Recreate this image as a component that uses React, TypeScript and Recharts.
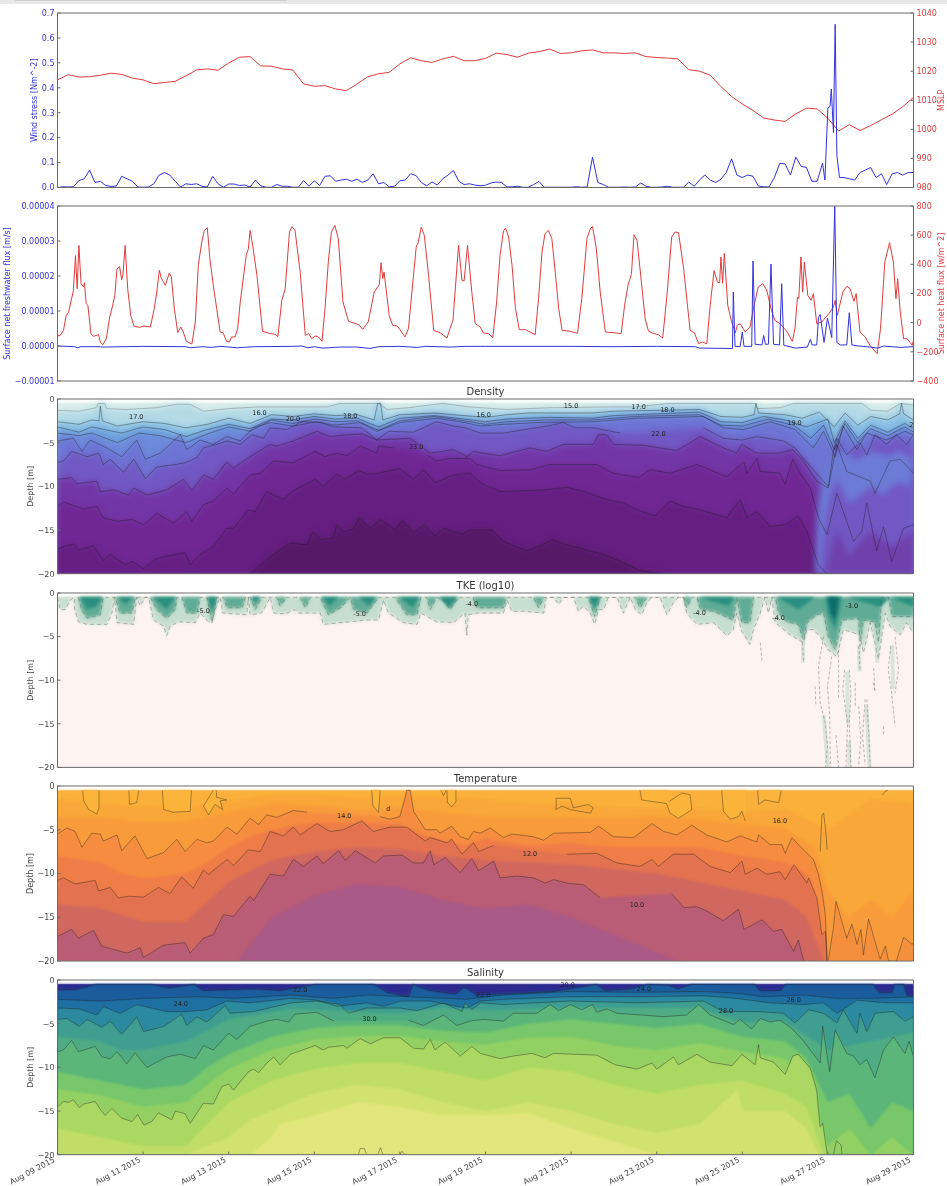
import {
  Area,
  ComposedChart,
  Line,
  ReferenceDot,
  XAxis,
  YAxis,
} from "recharts";

type Pt = [number, number | null];
type Tag = [number, number, string];
type Layer = [string, Pt[], string, number?];

const xTicks = [0, 2, 4, 6, 8, 10, 12, 14, 16, 18, 20];
const dateLabels = ["Aug 09 2015", "Aug 11 2015", "Aug 13 2015", "Aug 15 2015", "Aug 17 2015", "Aug 19 2015", "Aug 21 2015", "Aug 23 2015", "Aug 25 2015", "Aug 27 2015", "Aug 29 2015"];
const depthTicks = [0, -5, -10, -15, -20];

// wind stress, one value per 3 hours up to the storm, then a hand read peak
const windEarly = [
  0, 0.003, 0.002, 0.003, 0.028, 0.035, 0.07, 0.02, 0.025, 0.008,
  0.004, 0.006, 0.045, 0.035, 0.025, 0.002, 0.001, 0.002, 0.015, 0.05,
  0.06, 0.05, 0.025, 0.002, 0.015, 0.012, 0.015, 0.005, 0.002, 0.045,
  0.015, 0.001, 0.014, 0.014, 0.008, 0.01, 0.002, 0.03, 0.007, 0.001,
  0.001, 0.012, 0.005, 0.005, 0.001, 0.001, 0.028, 0.005, 0.027, 0.008,
  0.045, 0.047, 0.025, 0.03, 0.033, 0.025, 0.033, 0.02, 0.03, 0.055,
  0.015, 0.02, 0.003, 0.005, 0.027, 0.03, 0.055, 0.048, 0.02, 0.007,
  0.022, 0.01, 0.035, 0.05, 0.068, 0.025, 0.012, 0.015, 0.01, 0.007,
  0.009, 0.018, 0.022, 0.02, 0.002, 0.003, 0.005, 0.001, 0.001, 0.012,
  0.024, 0.001, 0.001, 0.001, 0.001, 0.001, 0.001, 0.003, 0.001, 0.002,
  0.122, 0.02, 0.012, 0.001, 0.001, 0.001, 0.002, 0.001, 0.002, 0.018,
  0.005, 0.001, 0.001, 0.002, 0.005, 0.001, 0.001, 0.001, 0.022, 0.005,
  0.03, 0.05, 0.03, 0.02, 0.033, 0.06, 0.115, 0.05, 0.04, 0.05,
  0.045, 0.006, 0.003, 0.002, 0.04, 0.097, 0.095, 0.05, 0.122, 0.085,
  0.08, 0.025, 0.025, 0.098,
];
const windPeak: Pt[] = [[17.93, 0.03], [18, 0.32], [18.05, 0.325], [18.08, 0.395], [18.13, 0.22], [18.17, 0.655], [18.21, 0.13], [18.27, 0.04]];
const windLate = [0.04, 0.035, 0.03, 0.06, 0.07, 0.08, 0.04, 0.055, 0.012, 0.055, 0.06, 0.05, 0.06, 0.06];

const mslp = [
  1017, 1018.8, 1018, 1018.1, 1018.6, 1019.3, 1018.9, 1017.6, 1017, 1015.7,
  1016.1, 1016.5, 1018.4, 1020.4, 1020.8, 1020.3, 1022.8, 1024.8, 1025, 1021.8,
  1021.7, 1020.8, 1020.4, 1015.6, 1014.8, 1015, 1013.9, 1013.3, 1015.6, 1018.1,
  1019.1, 1019.6, 1022.5, 1024.6, 1023.6, 1023, 1024.2, 1025.1, 1023.6, 1023.6,
  1024.4, 1026.2, 1025.7, 1024.8, 1026.2, 1026.7, 1027.6, 1026.1, 1026.3, 1027,
  1027.3, 1026.3, 1026.3, 1026.1, 1026.3, 1025, 1024.7, 1024.5, 1024.2, 1020.5,
  1020, 1018.6, 1014.7, 1011.3, 1008.7, 1006.5, 1003.9, 1003.2, 1002.7, 1005.3,
  1007.3, 1007, 1003.8, 999.4, 1001.6, 999.6, 1001.3, 1003.3, 1005.2, 1007.8, 1011,
];

const heatFlux: Pt[] = [
  [0, -89], [0.06, -89], [0.14, -53], [0.2, 46], [0.26, 73], [0.37, 219], [0.42, 459], [0.46, 233], [0.5, 530], [0.55, 267], [0.61, 245], [0.63, 274], [0.67, 130], [0.71, 119], [0.78, -75], [0.84, -94], [0.96, -82], [1, -133], [1.06, -151], [1.14, -110], [1.22, 39], [1.28, 107], [1.34, 187], [1.39, 370], [1.45, 386], [1.5, 295], [1.53, 329], [1.58, 530], [1.64, 233], [1.71, 50], [1.79, -25], [1.93, -32], [2.02, -23], [2.17, -30], [2.26, 96], [2.32, 210], [2.38, 359], [2.42, 309], [2.52, 256], [2.61, 340], [2.66, 313], [2.73, 96], [2.81, -69], [2.88, -30], [2.94, -64], [3.01, -128], [3.14, -146], [3.22, 5], [3.29, 393], [3.37, 553], [3.43, 633], [3.5, 651], [3.56, 439], [3.64, 256], [3.72, 96], [3.8, -64], [3.87, -69], [3.95, -128], [4.02, -133], [4.06, -98], [4.15, -98], [4.21, -41], [4.27, 142], [4.41, 462], [4.46, 507], [4.5, 633], [4.56, 530], [4.66, 325], [4.79, -59], [4.97, -75], [5.09, -80], [5.15, -96], [5.24, 153], [5.32, 233], [5.42, 622], [5.48, 658], [5.55, 633], [5.67, 347], [5.79, -87], [5.87, -75], [5.94, -110], [6.02, -91], [6.1, -98], [6.18, -128], [6.25, 96], [6.33, 427], [6.4, 621], [6.48, 667], [6.56, 576], [6.67, 142], [6.8, 9], [6.92, -2], [7.04, -14], [7.13, -46], [7.26, 5], [7.4, 210], [7.52, 261], [7.56, 411], [7.6, 302], [7.63, 347], [7.75, 50], [7.83, -18], [7.94, -23], [8.12, -98], [8.2, -41], [8.38, 517], [8.43, 553], [8.5, 655], [8.57, 599], [8.67, 325], [8.79, -53], [8.94, -69], [9.1, -105], [9.17, -41], [9.24, 16], [9.37, 530], [9.45, 290], [9.5, 286], [9.58, 530], [9.68, 210], [9.76, -7], [9.88, -30],
  [9.95, -71], [10.07, -75], [10.17, -103], [10.26, 142], [10.34, 462], [10.42, 629], [10.47, 649], [10.54, 587], [10.62, 393], [10.7, 96], [10.79, -48], [10.93, -48], [11.04, -64], [11.16, -82], [11.24, 165], [11.32, 485], [11.39, 610], [11.47, 633], [11.55, 576], [11.63, 347], [11.71, 96], [11.79, -53], [11.98, -59], [12.15, -73], [12.25, 165], [12.37, 576], [12.45, 644], [12.5, 660], [12.59, 507], [12.68, 210], [12.8, -64], [13, -69], [13.17, -75], [13.25, 119], [13.33, 256], [13.41, 336], [13.47, 603], [13.54, 565], [13.61, 370], [13.73, 27], [13.81, -59], [13.93, -75], [14.04, -82], [14.14, -105], [14.24, 187], [14.35, 587], [14.43, 622], [14.51, 617], [14.63, 370], [14.78, -53], [14.88, -69], [14.98, -144], [15.06, -133], [15.17, -144], [15.25, 119], [15.34, 357], [15.42, 277], [15.47, 274], [15.5, 450], [15.54, 270], [15.58, 475], [15.66, 119], [15.75, 5], [15.84, -69], [15.88, -18], [15.95, -7], [16.07, -64], [16.18, -30], [16.26, 96], [16.37, 245], [16.48, 267], [16.57, 224], [16.68, 85], [16.76, 16], [16.88, -7], [16.99, -41], [17.07, -75], [17.17, -128], [17.23, -41], [17.29, 176], [17.32, 165], [17.37, 450], [17.41, 210], [17.45, 416], [17.53, 187], [17.61, 153], [17.66, 199], [17.74, -7], [17.86, 5], [18.02, 62], [18.13, 107], [18.17, 153], [18.22, 50], [18.35, 210], [18.44, 249], [18.52, 233], [18.61, 146], [18.66, 199], [18.75, -64], [18.87, -98], [18.98, -155], [19.15, -213], [19.23, -41], [19.33, 416], [19.44, 549], [19.53, 416], [19.59, 165], [19.63, 302], [19.69, 73], [19.77, -110], [19.85, -110], [19.97, -155], [20, -121],
];

// freshwater flux in units of 1e-5 m/s
const freshFlux: Pt[] = [
  [0, 0], [0.4, -0.02], [0.46, -0.05], [0.55, -0.02], [1, -0.02], [1.05, -0.03], [2, -0.01], [3, -0.02], [3.1, -0.05], [3.4, -0.02], [3.6, -0.04], [3.8, -0.01], [4, -0.03], [4.2, -0.05], [4.6, -0.02], [5.5, -0.01], [5.7, 0], [5.85, -0.05], [6, -0.02], [6.2, -0.06], [6.6, -0.03], [7, -0.03], [7.3, -0.07], [7.5, -0.02], [8, -0.01], [8.4, -0.04], [8.6, -0.01], [9.2, -0.03], [9.5, -0.01], [10, -0.01], [12, -0.01], [13, -0.02], [14, -0.01], [14.9, -0.02], [15, -0.06], [15.74, -0.07], [15.77, -0.07], [15.79, 1.54], [15.83, -0.01], [15.95, -0.02], [16, 0.4], [16.04, -0.01], [16.22, -0.01], [16.25, 2.43], [16.3, 0.05], [16.46, 0.03], [16.5, 0.3], [16.54, 0.05], [16.61, 0.05], [16.67, 2.34], [16.73, 0.05], [16.87, 0.03], [16.92, 1.78], [16.97, 0.02], [17.24, -0.06], [17.52, -0.03], [17.59, 0.19], [17.63, 0.03], [17.74, 0.03], [17.78, 0.82], [17.82, 0.9], [17.91, 0.1], [17.99, 0.8], [18.09, 0.24], [18.16, 4], [18.21, 0.1], [18.29, 0.03], [18.44, 0.03], [18.5, 0.95], [18.56, 0.03], [18.72, 0], [18.99, -0.03], [19.16, -0.06], [19.3, 0], [19.69, -0.04], [20, -0.02],
];

const surface: Pt[] = [[0, -0.5], [20, -0.5]];

// density contours, [day, depth]
const densU0: Pt[] = [[0, -1.3], [0.5, -1.4], [0.9, -1], [0.95, -0.5], [1.1, -0.5], [1.15, -1.1], [1.6, -1.2], [2.3, -1], [2.8, -0.6], [3.1, -0.6], [3.4, -1.4], [4, -1.1], [4.7, -0.9], [5.5, -0.9], [6.3, -0.9], [6.6, -0.5], [7.3, -0.5], [7.5, -0.5], [7.7, -1.2], [8.2, -1], [9, -0.5], [9.6, -0.9], [10.5, -1.2], [11.5, -1], [13, -0.9], [13.5, -0.9], [14.3, -0.5], [15.5, -0.5], [16.3, -0.5], [16.35, -1.1], [16.9, -1], [17.2, -0.5], [18.8, -0.5], [19, -1.3], [19.4, -1.4], [19.7, -0.5], [20, -0.7]];
const densU1: Pt[] = [[0, -2.6], [0.5, -2.9], [0.8, -2.4], [0.97, -2.5], [1, -0.8], [1.05, -2.5], [1.4, -3.1], [2, -2.6], [2.5, -2.8], [3, -3.3], [3.5, -2.9], [4, -2.2], [4.5, -2.8], [5, -1.8], [5.5, -2], [6, -1.7], [6.5, -1.9], [7, -1.8], [7.4, -2.4], [7.48, -0.5], [7.55, -0.5], [7.6, -2.4], [8, -1.8], [8.8, -1.6], [9.5, -1.9], [10, -2.1], [10.5, -1.8], [11, -1.6], [11.5, -1.6], [12.5, -1.6], [13, -1.4], [14, -1.3], [15, -1.2], [15.5, -2], [16, -2.1], [16.28, -1.8], [16.32, -0.5], [16.38, -1.6], [17, -1.8], [17.4, -2.2], [17.8, -1.5], [18.15, -3.2], [18.4, -1.6], [18.7, -3], [19, -2], [19.4, -2.4], [19.68, -1.7], [19.72, -0.5], [19.77, -1.7], [20, -2.4]];
const densU2: Pt[] = [[0, -3.2], [0.5, -3.8], [0.8, -3.2], [1.5, -3.9], [2, -3.2], [2.5, -3.5], [3, -4.3], [3.5, -3.5], [4, -2.9], [4.5, -3.4], [5, -2.3], [5.5, -2.4], [6, -2], [6.5, -2.3], [7, -2.2], [7.5, -3.2], [8, -2.2], [8.8, -1.9], [9.5, -2.3], [10, -2.6], [10.5, -2.3], [11, -2.2], [11.5, -2.1], [12.5, -2.2], [13, -1.9], [14, -1.7], [15, -1.5], [15.5, -2.6], [16, -2.7], [16.5, -2], [17, -2.4], [17.5, -3.2], [18, -2.3], [18.15, -5], [18.4, -2.5], [18.7, -4.5], [19, -3], [19.4, -3.8], [19.8, -2.8], [20, -3.4]];
const densU3: Pt[] = [[0, -3.9], [0.5, -4.2], [0.8, -3.9], [1.4, -5], [1.9, -3.9], [2.4, -4.2], [3, -5], [3.5, -4], [4, -3.2], [4.5, -3.7], [5, -2.4], [5.5, -2.8], [6, -2.3], [6.5, -2.6], [7, -2.5], [7.5, -3.6], [8, -2.5], [8.8, -2], [9.5, -2.5], [10, -2.9], [10.5, -2.6], [11.4, -2.4], [12.5, -2.4], [13.5, -2], [15, -1.8], [15.5, -3], [16, -3.1], [16.6, -2.3], [17.2, -3], [17.6, -4.5], [17.9, -3], [18.15, -5.8], [18.4, -2.8], [18.7, -5], [19, -3.4], [19.4, -4.2], [19.8, -3.2], [20, -3.8]];
const densU4: Pt[] = [[0, -4.8], [0.37, -4.5], [0.57, -6], [0.76, -4.7], [1.15, -5.6], [1.5, -6.6], [1.85, -4.7], [2.05, -6.9], [2.4, -6.2], [2.87, -4.1], [3.02, -5.8], [3.33, -4.7], [3.64, -5.2], [3.96, -4.3], [4.27, -4.8], [4.58, -3.3], [4.97, -2.7], [5.51, -3.1], [6.06, -2.6], [6.45, -3], [7.07, -2.7], [7.46, -3.7], [8, -2.7], [8.86, -2.2], [9.52, -2.7], [9.88, -3.1], [10.42, -2.9], [11.2, -2.7], [12.52, -2.6], [13.54, -2.2], [15.09, -2], [15.56, -3.3], [16.03, -3.5], [16.65, -2.6], [17.23, -3.5], [17.66, -5.6], [17.9, -3.7], [18.17, -6.6], [18.36, -3.1], [18.68, -5.8], [18.91, -3.9], [19.37, -4.7], [19.8, -3.7], [20, -4.1]];
const densA: Pt[] = [[0, -7.3], [0.14, -7.1], [0.33, -6], [0.69, -6.6], [0.96, -6.2], [1.07, -7.5], [1.23, -6.9], [1.54, -8.4], [1.78, -6.9], [2.05, -9.1], [2.32, -7.8], [2.75, -7.5], [2.98, -7.3], [3.26, -6.7], [3.41, -5.6], [3.72, -5.2], [3.96, -4.8], [4.27, -5.2], [4.54, -4.1], [4.81, -4.5], [4.97, -3.3], [5.36, -3.5], [5.71, -2.6], [6.14, -2.7], [6.45, -3.2], [7.11, -3.3], [7.46, -4.7], [7.73, -3.7], [8.32, -3.8], [8.86, -2.6], [9.25, -3.1], [9.52, -3.3], [9.88, -3.9], [10.42, -3.9], [11.43, -3.1], [11.82, -2.7], [12.09, -3.3], [12.52, -3.3], [13.15, -3.9], [14, null], [15.09, -3.3], [15.56, -4.5], [15.99, -4.7], [16.34, -4.3], [16.96, -4.8], [17.23, -5.6], [17.43, -6.8], [17.82, -9], [18.01, -10], [18.13, -6], [18.21, -4.5], [18.44, -6.4], [18.75, -5], [18.91, -6.4], [19.1, -4.1], [19.37, -5.2], [19.6, -4.1], [19.84, -5.2], [20, -4.1]];
const densB: Pt[] = [[0, -9.2], [0.33, -9], [0.45, -9.7], [0.92, -9.4], [1, -10.6], [1.31, -10.4], [1.66, -11], [1.78, -10.2], [2.09, -11], [2.55, -10.4], [2.94, -9.2], [3.14, -10.5], [3.41, -8.7], [3.64, -9.2], [3.96, -7.2], [4.11, -7.9], [4.5, -6.6], [4.97, -5.2], [5.12, -5.4], [5.51, -4.8], [6.06, -3.7], [6.37, -4.3], [6.76, -4.1], [7.11, -4], [7.46, -4.7], [8.24, -4.5], [8.71, -6.2], [9.25, -5.8], [9.56, -6.6], [9.72, -6], [9.95, -6.2], [10.34, -6.5], [11.04, -5.6], [11.43, -6], [11.82, -5.2], [12.52, -5.2], [12.64, -4.1], [12.83, -4.1], [12.99, -5.2], [13.69, -5.3], [14.47, -5.9], [15.02, -4.3], [15.56, -5.6], [15.87, -6.2], [15.99, -5.2], [16.34, -6.2], [16.88, -6.2], [17.18, -5.8], [17.43, -7.1], [17.74, -9.4], [18.01, -10.2], [18.21, -5.2], [18.44, -8.3], [18.99, -9.4], [19.1, -10.8], [19.45, -7.1], [19.69, -6.9], [20, -8.5]];
const densC: Pt[] = [[0, -12.3], [0.14, -11.8], [0.61, -12.6], [0.92, -12.3], [1.07, -13.6], [1.39, -14], [1.74, -13.8], [2.01, -14.4], [2.32, -13.1], [2.71, -14.2], [3.02, -12.9], [3.14, -14], [3.41, -12.1], [3.64, -11.7], [3.96, -10.2], [4.11, -10.9], [4.5, -8.7], [4.74, -8.5], [5.05, -7.1], [5.51, -7.3], [6.02, -6], [6.25, -6.6], [6.53, -6.2], [6.76, -6.5], [7.07, -5.4], [7.46, -6.2], [7.5, -5.4], [7.85, -5.6], [8.2, null], [8.63, -6.4], [8.86, -7.1], [9.17, -6.8], [9.64, -6.8], [9.8, -7.5], [10.34, -8.2], [11.04, -8.1], [11.51, -7.5], [12.6, -7.5], [12.99, -8.5], [13.58, -9], [13.85, -8.1], [14.31, -8.5], [14.94, -7.5], [15.64, -8.9], [16.03, -7.2], [16.11, -8.5], [16.34, -6.8], [16.42, -8.3], [16.88, -8.5], [17, -9.8], [17.18, -6.9], [17.35, -8.5], [17.59, -10.2], [17.78, -13.6], [17.98, -15.5], [18.21, -10.8], [18.44, -14], [18.6, -16.3], [18.79, -15.2], [18.91, -11.9], [19.14, -17.4], [19.3, -14.6], [19.49, -18.6], [19.77, -14.8], [20, -14.4]];
const densD: Pt[] = [[0, -17.2], [0.14, -16.9], [0.37, -16.6], [0.49, -17.3], [0.84, -16.8], [1.07, -18.5], [1.23, -17.8], [1.58, -19], [1.74, -18.6], [2.01, -19.4], [2.32, -18.3], [2.55, -18], [2.98, -17.6], [3.1, -19], [3.33, -17.8], [3.64, -16.9], [3.96, -14.8], [4.11, -14.8], [4.46, -12.7], [4.62, -12.9], [4.89, -10.6], [5.05, -11], [5.28, -11.5], [5.51, -10.5], [6.02, -9.2], [6.21, -10], [6.53, -8.6], [6.72, -9.2], [7.03, -8.2], [7.23, -8.6], [7.5, -8.5], [7.77, -8.2], [8, -8], [8.32, -9.2], [8.55, -8.1], [8.82, -9.6], [9.25, -8.7], [9.64, -8.5], [9.88, -9.6], [10.34, -10.6], [11.43, -10.4], [11.9, -10.1], [12.29, -10.6], [12.83, -11.5], [13.22, -11.9], [13.54, -12.7], [13.96, -13.4], [14.31, -11.7], [14.63, -12.3], [15.02, -12.7], [15.64, -13.6], [15.95, -11.5], [16.11, -13.6], [16.34, -12.9], [16.65, -14.6], [17, -14.4], [17.31, -13.4], [17.51, -15.2], [17.78, -19], [17.98, -20]];
const densE: Pt[] = [[4.5, -20], [5.05, -17.8], [5.44, -16.5], [5.83, -16.7], [5.98, -15.2], [6.14, -16.1], [6.45, -15.9], [6.53, -14.4], [6.68, -15.2], [6.92, -14.9], [7.03, -13.6], [7.31, -14.8], [7.54, -13.8], [7.89, -15], [8.05, -13.9], [8.32, -15.3], [8.57, -14.4], [8.82, -15.7], [9.02, -14.8], [9.45, -15.5], [9.64, -15], [10.15, -15], [10.42, -16.3], [10.97, -17.4], [11.32, -16.7], [11.55, -16.1], [11.9, -16.7], [12.76, -17.8], [13.07, -18.4], [13.54, -19.5], [13.69, -19.7], [13.96, -19.9], [14.2, -20]];
// lighter water after the storm, tones only
const densStorm1: Pt[] = [[17.7, -20], [17.75, -13], [17.9, -8], [18, -7], [18.2, -5.5], [18.4, -6], [18.7, -7], [19, -6], [19.4, -6.5], [19.7, -6], [20, -7]];
const densStorm2: Pt[] = [[17.8, -20], [17.9, -15], [18.05, -11], [18.2, -9], [18.5, -12], [19, -10], [19.3, -11], [19.6, -9.5], [20, -10]];
const densStorm3: Pt[] = [[17.95, -20], [18.1, -17], [18.2, -15], [18.5, -18], [19, -15], [19.5, -17], [20, -15]];
const densTags: Tag[] = [[1.84, -2, "17.0"], [4.72, -1.6, "16.0"], [5.5, -2.3, "20.0"], [6.84, -1.9, "18.0"], [8.38, -5.5, "23.0"], [9.96, -1.75, "16.0"], [12, -0.76, "15.0"], [13.58, -0.9, "17.0"], [14.25, -1.2, "18.0"], [14.04, -4, "22.0"], [17.22, -2.7, "19.0"], [19.95, -2.9, "2"]];

// TKE contours, [day, depth]
const tkeOuter: Pt[] = [[0, -0.5], [0.06, -1.9], [0.18, -1.9], [0.3, -0.8], [0.39, -0.5], [0.4, -1.9], [0.49, -3.3], [0.69, -3.6], [1.15, -3.6], [1.27, -2.3], [1.33, -0.5], [1.39, -3.4], [1.78, -3.6], [1.85, -0.5], [1.93, -1.5], [2.05, -0.5], [2.13, -0.5], [2.24, -3.1], [2.48, -3.8], [2.55, -4.9], [2.63, -3.8], [2.83, -3.3], [3.22, -3.4], [3.33, -2.3], [3.53, -3.3], [3.61, -3.4], [3.68, -1.9], [3.8, -0.5], [3.86, -2.3], [4.42, -2.5], [4.46, -0.5], [4.5, -2.5], [4.77, -2.3], [4.97, -0.5], [5.05, -2.3], [5.32, -2.4], [5.55, -1.9], [5.63, -2.3], [6.14, -2.3], [6.21, -3.6], [6.84, -3.3], [7.23, -3.1], [7.5, -3.1], [7.62, -0.8], [7.73, -2.3], [8.08, -3.4], [8.4, -3.6], [8.49, -2.3], [8.86, -3.3], [9.25, -3.4], [9.52, -2.3], [9.56, -4.8], [9.6, -2.5], [9.8, -2.3], [10.42, -2.3], [10.5, -0.8], [10.62, -2.1], [10.89, -2.1], [11.36, -2.3], [11.42, -0.5], [11.59, -0.5], [11.71, -1.3], [11.82, -0.5], [12.06, -0.5], [12.17, -2.1], [12.29, -1.5], [12.45, -2.3], [12.55, -3.6], [12.64, -1.9], [12.76, -1.9], [12.87, -0.5], [13.07, -0.5], [13.22, -2.3], [13.38, -0.5], [13.5, -1.9], [13.65, -2.5], [13.77, -1.1], [13.89, -0.5], [14.08, -0.5], [14.24, -2.5], [14.39, -1.1], [14.51, -0.5], [14.63, -0.5], [14.7, -2.3], [14.94, -3.6], [15.33, -3.4], [15.64, -4.9], [15.79, -4.2], [15.87, -2.3], [15.99, -4.4], [16.18, -5.9], [16.26, -4.2], [16.42, -2.3], [16.53, -0.5], [16.61, -2.3], [16.69, -0.5], [16.77, -3.4], [17.12, -4.8], [17.43, -5.7], [17.51, -4.2], [17.66, -4.2], [17.82, -5], [18.01, -6.5], [18.21, -7.3], [18.36, -4.2], [18.75, -4.8], [18.83, -6.9], [18.99, -3.4], [19.18, -7.6], [19.34, -2.3], [19.45, -3.8], [19.69, -4.8], [19.84, -3.4], [20, -4.6]];
const tkeMid: Pt[] = [[0.49, -0.5], [0.56, -1.9], [0.69, -2.9], [1, -2.5], [1.07, -0.5], [1.35, -0.5], [1.46, -2.3], [1.74, -2.3], [1.82, -0.5], [2.17, -0.5], [2.32, -1.9], [2.55, -2.9], [2.75, -1.9], [2.79, -0.5], [2.91, -0.5], [3.02, -2.3], [3.26, -2.3], [3.33, -0.5], [3.49, -0.5], [3.61, -3.3], [3.72, -0.5], [3.88, -0.5], [3.96, -1.7], [4.31, -1.7], [4.39, -0.5], [4.5, -0.5], [4.62, -1.9], [4.77, -0.5], [5.12, -0.5], [5.2, -1.5], [5.36, -0.5], [5.67, -0.5], [5.79, -1.7], [5.91, -0.5], [6.14, -0.5], [6.33, -2.5], [6.61, -1.7], [6.84, -0.5], [6.92, -1.9], [7.23, -2.3], [7.5, -0.5], [7.89, -0.5], [8.16, -2.5], [8.4, -2.5], [8.49, -0.5], [8.63, -0.5], [8.71, -1.9], [8.86, -0.5], [9.02, -0.8], [9.17, -1.9], [9.37, -0.5], [9.7, -0.5], [9.8, -1.7], [10.42, -1.7], [10.48, -0.5], [11.12, -0.5], [11.24, -1.7], [11.37, -0.5], [12.41, -0.5], [12.55, -2.7], [12.68, -0.5], [13.5, -0.5], [13.61, -1.7], [13.77, -0.5], [14.63, -0.5], [14.7, -1.7], [14.82, -0.5], [14.94, -0.5], [15.02, -1.9], [15.33, -2.1], [15.79, -3.1], [15.87, -0.5], [15.99, -3.4], [16.18, -3.4], [16.26, -0.5], [16.77, -0.5], [16.85, -2.3], [17.04, -3.3], [17.31, -3.6], [17.43, -5.4], [17.51, -3.4], [17.74, -2.5], [17.9, -2.3], [18.01, -5], [18.17, -6.5], [18.33, -3.1], [18.72, -2.9], [18.75, -6.1], [18.83, -3.1], [19.1, -3.3], [19.18, -5.7], [19.26, -0.5], [19.42, -0.5], [19.5, -2.7], [20, -2.7]];
const tkeCore: Pt[] = [[0.53, -0.5], [0.69, -1.9], [0.92, -1.5], [1.04, -0.5], [1.42, -0.5], [1.58, -1.3], [1.78, -0.5], [2.24, -0.5], [2.55, -1.9], [2.75, -0.5], [3.51, -0.5], [3.61, -2.3], [3.72, -0.5], [4.54, -0.5], [4.62, -1.1], [4.73, -0.5], [6.18, -0.5], [6.37, -1.5], [6.56, -0.5], [7.04, -0.5], [7.28, -1.5], [7.43, -0.5], [8, -0.5], [8.3, -1.7], [8.44, -0.5], [8.92, -0.5], [9.15, -1.7], [9.33, -0.5], [12.41, -0.5], [12.55, -1.7], [12.68, -0.5], [15, -0.5], [15.33, -1], [15.68, -1.5], [15.8, -0.5], [16.81, -0.5], [17.31, -1.9], [17.7, -0.5], [17.94, -0.5], [18.01, -2.5], [18.17, -4.2], [18.33, -0.5], [18.45, -0.5], [19.23, -1.6], [19.46, -0.5], [20, -1.6]];
const tkeDeepest: Pt[] = [[18, -0.5], [18.08, -2.5], [18.17, -3], [18.25, -0.5]];
const tkePatches: Pt[][] = [
  [[18.45, -9], [18.47, -15]], [[18.9, -13], [18.97, -20]], [[19.5, -6], [19.53, -11]], [[17.42, -5.5], [17.42, -8]], [[18.73, -6], [18.74, -9]], [[19.15, -4], [19.15, -8]], [[17.9, -14], [18, -20]], [[18.5, -17], [18.5, -20]],
];
const tkeStreaks: Pt[][] = [
  [[17.7, -10.7], [17.72, -13]],
  [[17.9, -5], [17.78, -8.4], [17.82, -12.6], [17.94, -14.9], [17.99, -17.6], [17.94, -20]],
  [[18.09, -7.3], [17.99, -10.7], [18.04, -13.8], [18.06, -20]],
  [[18.25, -6.5], [18.25, -12.2]],
  [[18.19, -16.3], [18.25, -20]],
  [[18.39, -8.8], [18.35, -11.1], [18.46, -15], [18.42, -20]],
  [[18.5, -8.8], [18.54, -11.5], [18.5, -15], [18.54, -20]],
  [[18.64, -10.3], [18.64, -13]],
  [[18.72, -13], [18.77, -16.8], [18.72, -19.7]],
  [[18.87, -12.2], [18.81, -16.4], [18.87, -19.7]],
  [[18.91, -12.2], [18.96, -16.4], [18.99, -20]],
  [[19.07, -8.6], [19.1, -11.3], [19.05, -10.1]],
  [[19.47, -6.1], [19.41, -8.8], [19.49, -11.5], [19.57, -15.3]],
  [[19.57, -5], [19.65, -8.8], [19.57, -11.5]],
  [[16.42, -5.7], [16.46, -7.8]],
  [[17.41, -5.7], [17.43, -8]],
  [[19.3, -15.3], [19.3, -16.3]],
  [[18.72, -6.1], [18.75, -8.8]],
  [[9.56, -4.2], [9.58, -4.9]],
];
const tkeTags: Tag[] = [[3.41, -2, "-5.0"], [7.06, -2.4, "-5.0"], [9.68, -1.26, "-4.0"], [15, -2.3, "-4.0"], [16.85, -2.87, "-4.0"], [18.56, -1.4, "-3.0"]];

// temperature contours, [day, depth]
const tempB1: Pt[] = [[0, -1.5], [0.9, -2], [2, -2.3], [3, -2.5], [4, -1.8], [5, -1], [6, -1], [7, -1.4], [8, -1.2], [8.8, -1.2], [10, -1.5], [11, -2], [12, -2], [13, -2.5], [14, -2.5], [15, -2.5], [16, -3], [17, -2.5], [18, -5], [19, -1.5], [20, -2]];
const tempB2: Pt[] = [[0, -3.5], [1, -3.5], [2, -4.2], [3, -4], [4, -3], [5, -2], [6, -2.2], [7, -2.8], [8, -2.5], [9, -3], [10, -3.5], [11, -3.5], [12, -3.5], [13, -3.7], [14, -3.5], [15, -3.8], [16, -4.3], [17, -4.8], [17.7, -7], [18, -12], [18.5, -15], [19, -13], [19.5, -15], [20, -12]];
const tempA: Pt[] = [[0, -5.5], [0.22, -4.8], [0.41, -5.2], [0.57, -7], [0.8, -5.4], [1, -5.5], [1.07, -6.3], [1.39, -5.6], [1.5, -7.4], [1.81, -5.7], [2.09, -8.3], [2.48, -7.6], [2.79, -6.1], [2.98, -7.5], [3.26, -6.1], [3.49, -6.5], [3.64, -6.3], [3.96, -4.7], [4.19, -5.5], [4.5, -3.7], [4.7, -4.4], [4.89, -3.3], [5.12, -3.6], [5.51, -2.8], [5.83, -3], [6.7, null], [7.54, -3.5], [7.77, -3.8], [8, -3.5], [8.12, -1.4], [8.16, -0.5], [8.24, -0.5], [8.32, -2.9], [8.59, -5], [8.86, -5], [8.94, -5.4], [9.21, -4.6], [9.41, -5.8], [9.6, -6.1], [9.72, -5.2], [9.88, -5.4], [10.11, -4.8], [10.42, -5.9], [10.62, -5.5], [11.12, -5.8], [11.36, -6.2], [11.59, -5.4], [12.45, -5.3], [12.64, -4.6], [12.99, -5.8], [13.46, -5.9], [13.89, -4.3], [14.16, -5.2], [14.47, -5.6], [14.82, -4.5], [15.17, -5.6], [15.64, -6.4], [15.95, -5.7], [16.34, -6.4], [16.38, -5.6], [16.65, -6.7], [16.92, -6.7], [17, -7.7], [17.16, -5.9], [17.35, -6.9], [17.66, -8.4], [17.78, -10.1], [17.86, -12], [17.94, -14.7], [17.98, -20]];
const tempM1: Pt[] = [[0, -8], [1, -8.7], [1.5, -10], [2, -10.5], [3, -10], [3.5, -8.7], [4, -7], [4.5, -5.8], [5, -5], [5.5, -4.5], [6, -4.2], [7, -4.2], [8, -4.3], [8.5, -5.5], [9, -6.2], [9.5, -6.8], [10, -6], [11, -6.8], [12, -6.5], [13, -7], [14, -7], [15, -7], [16, -8], [17, -8.7], [17.5, -10], [17.9, -18], [17.98, -20]];
const tempL2: Pt[] = [[0, -10.8], [0.14, -10.5], [0.41, -11.2], [0.88, -10.8], [0.96, -12], [1.23, -11.6], [1.42, -12.8], [1.66, -12.6], [2.01, -12.7], [2.36, -11.6], [2.63, -12.3], [2.9, -10.4], [3.17, -11.7], [3.41, -9.6], [3.53, -10.1], [3.96, -8.4], [4.11, -9.1], [4.46, -7.3], [4.74, -7.5], [4.97, -5.2], [5.28, -5.7], [5.51, -4.7], [5.67, -5.6], [6.06, -4.3], [6.37, -5.2], [6.68, -5], [7.11, -4], [7.38, -5.2], [7.77, -4.7], [8.16, -4.7], [8.59, -6.3], [8.71, -5.9], [9.1, -6.5], [9.21, -6.1], [9.45, -7.8], [9.72, -6.5], [9.84, -7.5], [10.19, -6.8], [11, null], [11.9, -7.8], [12.6, -7.7], [13.07, -8.8], [13.61, -9.2], [13.89, -8.4], [14.04, -9.2], [14.39, -7.8], [14.86, -7.8], [15.25, -9.2], [15.72, -9.9], [15.99, -8.6], [16.07, -10.1], [16.34, -9.4], [16.57, -10.1], [16.88, -9.8], [17, -10.7], [17.21, -9], [17.51, -11.1], [17.55, -10.5], [17.74, -12.8], [17.86, -17], [17.94, -16.6], [17.98, -20]];
const tempM2: Pt[] = [[0, -13.5], [1, -14], [2, -15.5], [3, -15.5], [4, -11], [5, -8.5], [6, -7.5], [7, -7], [8, -7.2], [9, -8], [10, -8.5], [12, -9], [14, -10], [15, -11], [16, -12], [17, -13], [17.5, -15], [17.9, -20]];
const tempL3: Pt[] = [[0, -17.2], [0.33, -16.4], [0.49, -17.4], [0.84, -16.5], [1.03, -18.3], [1.62, -19.1], [1.93, -18.5], [2.01, -19.6], [2.48, -18.2], [2.98, -17.9], [3.1, -19.1], [3.41, -17.4], [3.64, -17], [3.88, -14.7], [4.11, -14.9], [4.5, -12.6], [4.58, -13.1], [4.97, -10.1], [5.28, -10.3], [5.51, -8.4], [5.75, -9.2], [6.06, -8], [6.21, -8.9], [6.57, -7.4], [6.72, -8.5], [6.96, -7.4], [7.42, -8.8], [7.62, -8], [8.05, -7.9], [8.32, -8.8], [8.55, -8.8], [8.71, -7.4], [8.79, -9], [9.06, -8.2], [9.41, -9.9], [9.68, -8.3], [9.84, -9.7], [10.19, -8.6], [10.34, -10.5], [10.73, -10.3], [11.12, -10.5], [11.39, -11.1], [11.59, -10.7], [11.9, -11.1], [12.29, -11.3], [12.68, -12.8], [13.5, null], [14.35, -12.3], [14.63, -13.9], [14.94, -13.8], [15.17, -14.3], [15.56, -15.4], [15.91, -14.1], [16.04, -16.4], [16.46, -15.3], [16.73, -16.6], [16.92, -16.4], [17.2, -18.9], [17.31, -17.6], [17.43, -20]];
const tempM3: Pt[] = [[4.2, -20], [5, -15], [6, -12.5], [7, -11.2], [8, -11.5], [9, -13], [10, -14], [11, -13.5], [12, -15], [13, -17], [14, -19], [14.5, -20]];
const tempRight: Pt[] = [[18.01, -20], [18.13, -16.2], [18.19, -13.2], [18.44, -17.4], [18.56, -15.8], [18.68, -18.1], [18.77, -16.4], [18.83, -19.3], [18.95, -15.2], [19.22, -19.8], [19.34, -18.3], [19.42, -20], [19.6, -20], [19.77, -17.3], [19.97, -18.1], [20, -17.9]];
const tempPools: Pt[][] = [
  [[0.59, -0.5], [0.61, -1.7], [0.73, -2.7], [0.92, -3.2], [0.97, -2.5], [0.97, -0.5]],
  [[1.67, -0.5], [1.68, -2.1], [1.85, -1.9], [1.9, -0.5]],
  [[2.45, -0.5], [2.48, -2.7], [2.71, -3], [3.1, -2.9], [3.13, -0.5]],
  [[3.64, -0.5], [3.41, -2.3], [3.53, -3.3], [3.68, -2.1], [3.86, -2.7], [3.8, -1.7], [3.96, -1.6], [3.72, -1.3], [3.71, -0.5]],
  [[7.34, -0.5], [7.37, -2.3], [7.5, -3], [7.54, -0.5]],
  [[8.96, -0.5], [9.02, -1.1], [9.08, -0.5]],
  [[9.1, -0.5], [9.11, -1.9], [9.21, -2.4], [9.31, -1.8], [9.31, -0.5]],
  [[13.61, -0.5], [13.65, -1.6], [14.23, -2], [14.31, -3.1], [14.51, -3.7], [14.82, -2.7], [14.78, -1], [14.59, -0.8], [14.28, -1.8]],
  [[15.52, -0.5], [15.56, -2.9], [15.72, -3.8], [15.91, -3.5], [15.99, -2.9], [16.07, -4]],
  [[16.36, -0.5], [16.38, -2.1], [16.53, -1.6], [16.85, -1.9], [16.91, -0.5]],
];
const tempLoops: Pt[][] = [
  [[11.65, -1.4], [11.65, -2.7], [11.79, -2.3], [11.98, -2.7], [12.45, -3.1], [12.52, -2.5], [12.41, -2.1], [12.05, -2.5], [11.98, -1.4], [11.65, -1.4]],
  [[17.82, -7.5], [17.86, -3.3], [17.9, -3.1], [17.96, -5.6], [17.98, -7.3]],
  [[19.28, -1], [19.34, -0.6], [19.4, -0.5]],
];
const tempTags: Tag[] = [[6.7, -3.4, "14.0"], [11.04, -7.7, "12.0"], [13.54, -13.6, "10.0"], [16.88, -4, "16.0"], [7.73, -2.6, "d"]];

// salinity contours, [day, depth]
const salS0: Pt[] = [[0, -1.1], [0.4, -1.1], [0.9, -0.5], [1.4, -0.5], [2.2, -0.5], [2.6, -0.9], [3.2, -0.5], [3.4, -1.2], [4.6, -1], [5.2, -1.2], [5.7, -0.8], [6, -0.5], [7.4, -0.5], [7.7, -1.4], [8.2, -1.9], [8.3, -0.5], [8.7, -1.2], [9.3, -1.6], [9.5, -0.8], [9.8, -1.7], [10.8, -1.5], [11.6, -1.3], [12.2, -0.8], [12.6, -0.5], [12.8, -1.2], [13.4, -1], [13.8, -0.5], [14.3, -0.6], [14.5, -1], [14.8, -0.5], [16.3, -0.5], [16.4, -1.2], [16.9, -1.2], [17, -0.5], [19.05, -0.5], [19.2, -1.4], [19.5, -1.4], [19.55, -0.5], [19.78, -0.5], [19.85, -1.8], [20, -1.8]];
const salS1: Pt[] = [[0, -2.2], [1, -2.4], [2, -2.1], [3.33, -1.9], [4.11, -2.1], [5.44, -1.7], [6.45, -2.1], [7.23, -1.7], [9.56, -2.2], [10.42, -1.7], [11.98, -1.3], [13.54, -1.4], [15.09, -1.3], [15.87, -1.5], [16.5, -1.9], [17.43, -1.7], [18.21, -2.1], [18.99, -2.1], [20, -1.9]];
const salS2: Pt[] = [[0, -3.2], [0.53, -3.3], [0.92, -4], [1.07, -3], [1.46, -3.8], [1.85, -2.8], [2.55, -3.6], [3.02, -3.6], [3.49, -3.4], [3.96, -2.4], [4.5, -2.6], [5.44, -2.1], [6.06, -2.3], [6.53, -3], [7.23, -2.6], [7.62, -3], [8, -2.4], [8.71, -2.4], [9.56, -3.2], [9.88, -2.4], [10.42, -2.2], [11.98, -1.9], [13.54, -1.9], [15.09, -1.8], [15.87, -2.1], [16.65, -2.6], [17.43, -2.8], [17.9, -2.6], [18.21, -3.8], [18.68, -2.3], [19.37, -2.6], [20, -2.6]];
const salS3: Pt[] = [[0, -4.5], [0.22, -4.4], [0.51, -5.3], [0.69, -4.5], [1.04, -5.4], [1.23, -4.7], [1.5, -6.2], [1.85, -4.2], [2.01, -5.9], [2.48, -5.3], [2.9, -3.9], [3.02, -5.2], [3.26, -4.2], [3.49, -4.8], [3.92, -2.9], [4.03, -3.8], [4.58, -3.6], [5.47, -2.6], [6.06, -2.4], [6.6, -2.8], [6.8, -3.8], [7.23, -3.2], [7.62, -3.2], [8, -3.2], [8.4, -3.5], [9.02, -2.6], [9.45, -3.6], [9.52, -2.6], [9.68, -3.4], [9.88, -2.6], [10.42, -2.8], [11.98, -2.4], [13.54, -2.6], [15.09, -2.4], [15.56, -3.6], [16.34, -3.6], [16.96, -3.8], [17.23, -4.9], [17.55, -3.4], [17.9, -3.8], [18.21, -4.9], [18.36, -3.4], [18.68, -6.1], [18.75, -3.8], [18.91, -5.9], [19.1, -3.8], [19.53, -3.6], [19.8, -4.7], [20, -4.2]];
const salM1: Pt[] = [[0, -6.5], [1, -7], [1.5, -8], [2, -8], [3, -7], [4, -4.5], [5.5, -3.3], [7, -3.6], [8, -3.8], [9, -3.2], [10, -3.5], [12, -3.2], [14, -3.2], [15, -3.2], [16, -4.8], [17, -4.8], [17.4, -6], [18, -8], [19, -7], [20, -6]];
const salS4: Pt[] = [[0, -8.2], [0.14, -8], [0.33, -6.9], [0.49, -8.2], [0.88, -7.6], [1.04, -8.8], [1.23, -9], [1.39, -8.2], [1.62, -9.6], [1.81, -8.3], [2.09, -10], [2.55, -8.8], [2.87, -8.5], [3.22, -9], [3.41, -7.5], [3.64, -8], [4, -6.1], [4.19, -6.8], [4.5, -5.3], [4.89, -4.7], [5.12, -4.5], [5.4, -4.8], [5.55, -3.9], [6.06, -3.7], [6.45, -4.7], [7.3, null], [8.2, -4.6], [8.55, -5.2], [9.02, -4], [9.33, -5.2], [9.64, -4.7], [9.95, -4.5], [10.42, -4.7], [10.65, -3.8], [11.2, -3.8], [11.51, -2.8], [11.71, -3.5], [11.98, -2.8], [12.25, -3.4], [12.5, -2.8], [12.6, -3.7], [12.83, -3.3], [13.07, -3.8], [14.16, -4.2], [14.7, -4], [14.98, -2.8], [15.25, -4], [15.79, -5.1], [15.95, -4.5], [16.22, -5.6], [16.42, -4.4], [16.65, -4.8], [16.88, -4.6], [17.15, -5.5], [17.43, -7], [17.82, -9.5], [17.88, -5.3], [18.04, -10.5], [18.17, -5.7], [18.44, -8.4], [18.6, -8.7], [18.75, -9.7], [18.91, -9.1], [19.1, -11.2], [19.3, -8], [19.53, -6.5], [19.8, -8.4], [19.9, -7], [20, -8.8]];
const salA: Pt[] = [[0, -10.5], [1, -11.5], [1.5, -12], [2, -12.5], [3, -12], [3.5, -10], [4, -8.5], [5, -6.5], [6, -5.5], [7, -5.2], [8, -5.2], [9, -5.8], [10, -6], [11, -5], [12, -4.5], [13, -5], [14, -5.5], [15, -5], [16, -6.5], [17, -7], [17.5, -9], [18, -14], [18.5, -13], [19, -17], [19.5, -14], [20, -15]];
const salB: Pt[] = [[0, -12.5], [1, -13.2], [2, -14.5], [3, -14], [3.5, -12], [4, -10.2], [5, -8], [6, -6.8], [7, -6.4], [8, -6.4], [9, -7], [10, -7.4], [11, -6.6], [12, -6.5], [13, -7.5], [14, -8], [15, -7.2], [16, -8.2], [17, -9], [17.5, -12], [18, -19], [18.5, -17], [19, -20], [19.5, -18], [20, -20]];
const salS5: Pt[] = [[0, -14.5], [0.14, -13.9], [0.26, -14], [0.37, -13.7], [0.51, -14.6], [0.61, -14.2], [0.88, -13.9], [1, -14.8], [1.11, -15.5], [1.27, -14.7], [1.5, -15.8], [1.74, -16.2], [1.87, -15.4], [2.02, -16.6], [2.2, -16.2], [2.36, -15.2], [2.67, -16], [2.75, -15], [2.98, -15.3], [3.1, -16.4], [3.26, -15.2], [3.41, -14.1], [3.64, -14.2], [3.84, -12.2], [4, -11.9], [4.11, -12.6], [4.46, -10.5], [4.58, -10.2], [4.7, -10.6], [4.89, -9.5], [5.05, -8.8], [5.2, -9.7], [5.44, -8.5], [6.02, -7.5], [6.21, -8], [6.33, -7.7], [6.68, -7.5], [6.76, -7.8], [7.07, -6.7], [7.31, -7.3], [7.62, -6.6], [8, -6.6], [8.32, -7.8], [8.55, -7.9], [8.71, -6.8], [8.82, -8], [9.06, -7.1], [9.41, -8.7], [9.68, -7.6], [9.88, -8.4], [10.34, -9], [10.65, -8.7], [11.08, -8.4], [11.39, -8.9], [11.59, -8.4], [12.6, -8.6], [13.03, -9.7], [13.54, -10.2], [13.89, -9.5], [14, -10.2], [14.39, -8.8], [14.51, -9.7], [14.94, -8.5], [15.25, -9.4], [15.76, -9.8], [15.99, -8.5], [16.3, -9.7], [16.38, -7.4], [16.42, -8.9], [16.73, -9.4], [17, -10.8], [17.18, -8.7], [17.31, -8.5], [17.59, -10.1], [17.74, -12.6], [17.82, -16.8], [17.88, -16.4], [17.99, -20]];
const salC: Pt[] = [[0, -17], [1, -18], [2, -19], [3, -19], [3.5, -16.5], [4, -14], [5, -11.5], [6, -10.2], [7, -9.5], [8, -9.5], [9, -10.5], [10, -11.5], [11, -10], [12, -10.5], [13, -12], [14, -13], [15, -12], [16, -11.5], [17, -13], [17.5, -14.5], [17.9, -20]];
const salD: Pt[] = [[2, -20], [3, -20], [4, -18], [4.5, -16], [5, -15], [6, -13], [7, -12], [8, -12.5], [9, -14], [10, -15], [11, -14], [12, -15], [13, -16.5], [14, -17.5], [15, -16.5], [15.9, -12.5], [16, -15], [17, -15], [17.5, -17], [17.8, -20]];
const salE: Pt[] = [[3.5, -20], [4.5, -20], [5, -18], [5.2, -16.5], [6, -15.5], [7, -14], [8, -14.5], [9, -15.5], [10, -15.5], [11, -15.2], [12, -17], [13, -18.5], [14, -20]];
const salBumps: Pt[][] = [
  [[7.03, -20], [7.07, -19.3], [7.17, -19.3], [7.22, -20]],
  [[7.48, -20], [7.55, -19.2], [7.6, -20]],
  [[8, -20], [8.05, -19.6], [8.12, -20]],
  [[18.13, -20], [18.2, -18.4], [18.31, -18.9], [18.33, -20]],
];
const salTags: Tag[] = [[5.67, -1.07, "22.0"], [2.88, -2.67, "24.0"], [7.29, -4.4, "30.0"], [9.95, -1.7, "22.0"], [11.92, -0.5, "20.0"], [13.7, -1, "24.0"], [17.2, -2.3, "26.0"], [15.62, -3.5, "28.0"]];

const BLUE = "#3232dc";
const RED = "#e03c3c";
const INK = "#444";
const FRAME = "#6a6a6a";
const FONT = "'DejaVu Sans', sans-serif";

const toRows = (pts: Pt[]) => pts.map(([day, value]) => ({ day, value }));
const minus = (v: number) => (v < 0 ? `\u2212${-v}` : `${v}`);

const windRows = [
  ...windEarly.map((value, i) => ({ day: i / 8, value })),
  ...toRows(windPeak),
  ...windLate.map((value, i) => ({ day: 18.375 + i / 8, value })),
];
const mslpRows = mslp.map((value, i) => ({ day: i / 4, value }));

const band = ([key, pts, fill, base = -20]: Layer, className?: string) => (
  <Area
    key={`${key}${className ?? ""}`}
    className={className}
    data={toRows(pts)}
    dataKey="value"
    type="linear"
    baseValue={base}
    fill={fill}
    fillOpacity={1}
    stroke="none"
    connectNulls
    dot={false}
    activeDot={false}
    isAnimationActive={false}
  />
);

// sharp copy first so the edges of the plot stay filled, blurred copy above it
const softBands = (layers: Layer[], className: string) => [
  ...layers.map((layer) => band(layer)),
  ...layers.map((layer) => band(layer, className)),
];

const contour = (key: string, pts: Pt[], stroke = "#1c1c1c", width = 0.65, dash?: string, opacity = 0.6) => (
  <Line
    key={key}
    data={toRows(pts)}
    dataKey="value"
    type="linear"
    stroke={stroke}
    strokeWidth={width}
    strokeOpacity={opacity}
    strokeDasharray={dash}
    dot={false}
    activeDot={false}
    isAnimationActive={false}
  />
);

const tags = (list: Tag[], fill = "#222") =>
  list.map(([day, depth, text]) => (
    <ReferenceDot
      key={`${text}-${day}`}
      x={day}
      y={depth}
      r={0}
      fill="none"
      stroke="none"
      label={{ value: text, position: "center", fontSize: 6.5, fill, fontFamily: FONT }}
    />
  ));

const DateTick = ({ x, y, payload }: any) => (
  <text
    x={x - 3}
    y={y}
    dy={2}
    textAnchor="end"
    fontSize={7.8}
    fontFamily={FONT}
    fill={INK}
    transform={`rotate(-28 ${x - 3} ${y})`}
  >
    {dateLabels[xTicks.indexOf(payload.value)]}
  </text>
);

const LEFT = 57.5;
const RIGHT = 33.5;

const timeAxes = (dates: boolean) => [
  <XAxis
    key="bottom"
    xAxisId={0}
    dataKey="day"
    type="number"
    domain={[0, 20]}
    ticks={xTicks}
    height={dates ? 31 : 1}
    tickSize={-3}
    tickMargin={dates ? 8 : 0}
    tick={dates ? <DateTick /> : false}
    tickLine={{ stroke: FRAME }}
    axisLine={{ stroke: FRAME }}
    interval={0}
    allowDataOverflow
  />,
  <XAxis
    key="top"
    xAxisId="top"
    orientation="top"
    dataKey="day"
    type="number"
    domain={[0, 20]}
    ticks={xTicks}
    height={1}
    tickSize={-3}
    tick={false}
    tickLine={{ stroke: FRAME }}
    axisLine={{ stroke: FRAME }}
    interval={0}
  />,
];

const Shell = ({ top, bottom, title, dates = false, children }: any) => {
  const below = dates ? 31 : 9;
  const chartHeight = 20 + (bottom - top) + below;
  return (
    <div style={{ position: "absolute", left: 0, top: top - 20, width: 947, height: chartHeight }}>
      {title && (
        <div
          style={{
            position: "absolute",
            left: LEFT,
            width: 856,
            top: 7,
            textAlign: "center",
            fontSize: 10,
            lineHeight: "12px",
            color: "#333",
          }}
        >
          {title}
        </div>
      )}
      <ComposedChart
        width={947}
        height={chartHeight}
        margin={{ top: 19, right: 0, bottom: dates ? 0 : 8, left: 0 }}
      >
        {children}
      </ComposedChart>
    </div>
  );
};

const depthAxes = () => [
  <YAxis
    key="depth"
    yAxisId={0}
    width={LEFT}
    type="number"
    domain={[-20, 0]}
    ticks={depthTicks}
    interval={0}
    tickSize={-3}
    tickMargin={6}
    tick={{ fill: INK, fontSize: 8, fontFamily: FONT }}
    tickFormatter={minus}
    tickLine={{ stroke: FRAME }}
    axisLine={{ stroke: FRAME }}
    allowDataOverflow
    label={{ value: "Depth [m]", angle: -90, position: "center", dx: 1.5, fill: INK, fontSize: 8, fontFamily: FONT }}
  />,
  <YAxis
    key="depthRight"
    yAxisId="right"
    orientation="right"
    width={RIGHT}
    type="number"
    domain={[-20, 0]}
    ticks={depthTicks}
    interval={0}
    tickSize={-3}
    tick={false}
    tickLine={{ stroke: FRAME }}
    axisLine={{ stroke: FRAME }}
  />,
];

const DepthPanel = ({ top, bottom, title, dates, children }: any) => (
  <Shell top={top} bottom={bottom} title={title} dates={dates}>
    {children}
    {timeAxes(!!dates)}
    {depthAxes()}
  </Shell>
);

const densityLayers: Layer[] = [
  ["s", surface, "#dcefeb"],
  ["u0", densU0, "#b4dae6"],
  ["u1", densU1, "#8ac0e3"],
  ["u2", densU2, "#6fa2dc"],
  ["u3", densU3, "#6c8ad9"],
  ["u4", densU4, "#6e74d4"],
  ["a", densA, "#7258c4"],
  ["b", densB, "#7336a6"],
  ["c", densC, "#702793"],
  ["d", densD, "#651f80"],
  ["e", densE, "#561867"],
  ["w1", densStorm1, "#6c7cd6"],
  ["w2", densStorm2, "#7258c4"],
  ["w3", densStorm3, "#7040ab"],
];
const tkeLayers: Layer[] = [
  ["s", surface, "#fdf3f0"],
  ["k1", tkeOuter, "#c6decf", -0.5],
  ["k3", tkeMid, "#5fab95", -0.5],
  ["k4", tkeCore, "#2a8f80", -0.5],
  ["k5", tkeDeepest, "#0c6b6a", -0.5],
];
const tempLayers: Layer[] = [
  ["s", surface, "#fab03a"],
  ["b1", tempB1, "#f9a738"],
  ["b2", tempB2, "#f89c3b"],
  ["a", tempA, "#f68c40"],
  ["m1", tempM1, "#ef7d47"],
  ["l2", tempL2, "#e37250"],
  ["m2", tempM2, "#d06860"],
  ["l3", tempL3, "#b95c76"],
  ["m3", tempM3, "#aa5a86"],
  ["r", tempRight, "#f48f3e"],
];
const salinityLayers: Layer[] = [
  ["s", surface, "#2c2a90"],
  ["s0", salS0, "#1a5c9c"],
  ["s1", salS1, "#1e6fa2"],
  ["s2", salS2, "#2b8a9f"],
  ["s3", salS3, "#3f9e90"],
  ["m1", salM1, "#4fab84"],
  ["s4", salS4, "#5cb67a"],
  ["a", salA, "#78c76a"],
  ["b", salB, "#93d064"],
  ["s5", salS5, "#abd862"],
  ["c", salC, "#c0dd68"],
  ["d", salD, "#d2e26f"],
  ["e", salE, "#e2e57b"],
];

export default function App() {
  return (
    <div
      style={{
        position: "absolute",
        left: 0,
        top: 0,
        width: 947,
        height: 1186,
        overflow: "hidden",
        background: "#fff",
        fontFamily: FONT,
        filter: "blur(0.4px)",
      }}
    >
      <style>{`.soft3 path{filter:blur(3px)}.soft2 path{filter:blur(1.5px)}.soft1 path{filter:blur(1px)}`}</style>
      <div style={{ position: "absolute", left: 0, top: 0, width: 947, height: 4, background: "#e8e8e8" }} />
      <div style={{ position: "absolute", left: 15, top: 0, width: 272, height: 1, background: "#cfcfcf" }} />

      <Shell top={12.5} bottom={187}>
        <Line yAxisId={1} data={mslpRows} dataKey="value" stroke={RED} strokeWidth={1} dot={false} activeDot={false} isAnimationActive={false} />
        <Line yAxisId={0} data={windRows} dataKey="value" stroke={BLUE} strokeWidth={1} dot={false} activeDot={false} isAnimationActive={false} />
        {timeAxes(false)}
        <YAxis
          yAxisId={0}
          width={LEFT}
          type="number"
          domain={[0, 0.7]}
          ticks={[0, 0.1, 0.2, 0.3, 0.4, 0.5, 0.6, 0.7]}
          interval={0}
          tickSize={-3}
          tickMargin={6}
          tick={{ fill: BLUE, fontSize: 8, fontFamily: FONT }}
          tickFormatter={(v: number) => v.toFixed(1)}
          tickLine={{ stroke: FRAME }}
          axisLine={{ stroke: FRAME }}
          label={{ value: "Wind stress [Nm^-2]", angle: -90, position: "center", dx: 5, fill: BLUE, fontSize: 8, fontFamily: FONT }}
        />
        <YAxis
          yAxisId={1}
          orientation="right"
          width={RIGHT}
          type="number"
          domain={[980, 1040]}
          ticks={[980, 990, 1000, 1010, 1020, 1030, 1040]}
          interval={0}
          tickSize={-3}
          tickMargin={6}
          tick={{ fill: RED, fontSize: 8, fontFamily: FONT }}
          tickLine={{ stroke: FRAME }}
          axisLine={{ stroke: FRAME }}
          label={{ value: "MSLP", angle: -90, position: "center", dx: 11, fill: RED, fontSize: 8, fontFamily: FONT }}
        />
      </Shell>

      <Shell top={205.7} bottom={380.7}>
        <Line yAxisId={1} data={toRows(heatFlux)} dataKey="value" stroke={RED} strokeWidth={1} dot={false} activeDot={false} isAnimationActive={false} />
        <Line yAxisId={0} data={toRows(freshFlux)} dataKey="value" stroke={BLUE} strokeWidth={1} dot={false} activeDot={false} isAnimationActive={false} />
        {timeAxes(false)}
        <YAxis
          yAxisId={0}
          width={LEFT}
          type="number"
          domain={[-1, 4]}
          ticks={[-1, 0, 1, 2, 3, 4]}
          interval={0}
          tickSize={-3}
          tickMargin={6}
          tick={{ fill: BLUE, fontSize: 8, fontFamily: FONT }}
          tickFormatter={(v: number) => (v < 0 ? "\u2212" : "") + (Math.abs(v) * 1e-5).toFixed(5)}
          tickLine={{ stroke: FRAME }}
          axisLine={{ stroke: FRAME }}
          label={{ value: "Surface net freshwater flux [m/s]", angle: -90, position: "center", dx: -22, fill: BLUE, fontSize: 8, fontFamily: FONT }}
        />
        <YAxis
          yAxisId={1}
          orientation="right"
          width={RIGHT}
          type="number"
          domain={[-400, 800]}
          ticks={[-400, -200, 0, 200, 400, 600, 800]}
          interval={0}
          tickSize={-3}
          tickMargin={6}
          tick={{ fill: RED, fontSize: 8, fontFamily: FONT }}
          tickFormatter={minus}
          tickLine={{ stroke: FRAME }}
          axisLine={{ stroke: FRAME }}
          label={{ value: "Surface net heat flux [w/m^2]", angle: -90, position: "center", dx: 11, fill: RED, fontSize: 8, fontFamily: FONT }}
        />
      </Shell>

      <DepthPanel top={399.3} bottom={574} title="Density">
        {softBands(densityLayers, "soft3")}
        {contour("lu0", densU0, "#666", 0.6, undefined, 0.6)}
        {contour("lu1", densU1)}
        {contour("lu2", densU2)}
        {contour("lu3", densU3)}
        {contour("lu4", densU4)}
        {contour("la", densA)}
        {contour("lb", densB)}
        {contour("lc", densC)}
        {contour("ld", densD)}
        {contour("le", densE)}
        {tags(densTags)}
      </DepthPanel>

      <DepthPanel top={593.3} bottom={767.7} title="TKE (log10)">
        {softBands(tkeLayers, "soft2")}
        {tkePatches.map((pts, i) => contour(`p${i}`, pts, "#b9d6c6", 4, undefined, 0.5))}
        {contour("lk1", tkeOuter, "#444", 0.6, "4 3")}
        {contour("lk3", tkeMid, "#444", 0.6, "4 3")}
        {tkeStreaks.map((pts, i) => contour(`t${i}`, pts, "#444", 0.6, "3 2"))}
        {tags(tkeTags)}
      </DepthPanel>

      <DepthPanel top={786.3} bottom={961.3} title="Temperature">
        {softBands(tempLayers, "soft1")}
        {tempPools.map((pts, i) => band([`pool${i}`, pts, "#fbb43a", -0.5], "soft1"))}
        {tempPools.map((pts, i) => contour(`lpool${i}`, pts))}
        {tempLoops.map((pts, i) => contour(`loop${i}`, pts))}
        {contour("la", tempA)}
        {contour("l2c", tempL2)}
        {contour("l3c", tempL3)}
        {contour("lr", tempRight)}
        {tags(tempTags)}
      </DepthPanel>

      <DepthPanel top={980.3} bottom={1155} title="Salinity" dates>
        {softBands(salinityLayers, "soft1")}
        {contour("ls0", salS0)}
        {contour("ls1", salS1)}
        {contour("ls2", salS2)}
        {contour("ls3", salS3)}
        {contour("ls4", salS4)}
        {contour("ls5", salS5)}
        {salBumps.map((pts, i) => contour(`bump${i}`, pts))}
        {tags(salTags)}
      </DepthPanel>
    </div>
  );
}
